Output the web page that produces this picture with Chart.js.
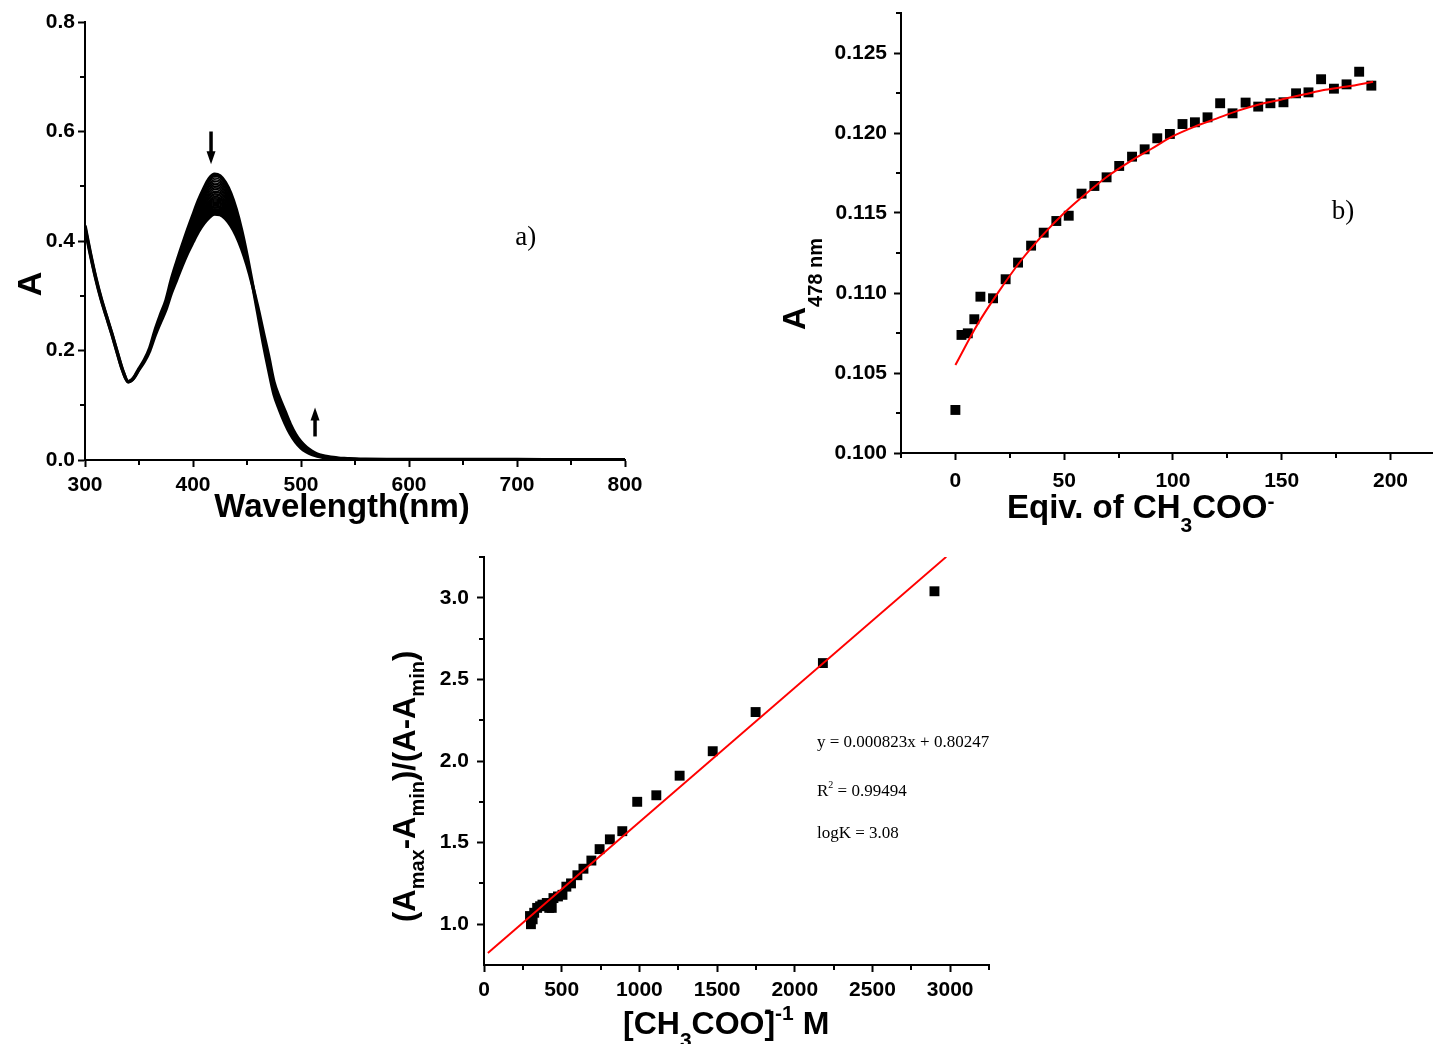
<!DOCTYPE html>
<html>
<head>
<meta charset="utf-8">
<script src="https://cdn.jsdelivr.net/npm/chart.js@4/dist/chart.umd.min.js"></script>
<style>
  html, body { margin: 0; padding: 0; background: #fff; width: 1433px; height: 1044px; overflow: hidden; }
  canvas { position: absolute; }
</style>
</head>
<body>
<canvas id="panelA" width="700" height="540" style="left:0;top:0"></canvas>
<canvas id="panelB" width="674" height="540" style="left:760px;top:0"></canvas>
<canvas id="panelC" width="640" height="504" style="left:380px;top:540px"></canvas>
<script>
// ---------- a) UV-vis titration spectra ----------
const wavelength = [300,305,310,315,320,325,330,335,340,345,350,355,360,365,370,375,380,385,390,395,
  400,405,410,415,420,425,430,435,440,445,450,455,460,465,470,475,480,485,490,495,
  500,505,510,515,520,525,530,535,540,545,550,555,560,580,600,650,700,750,800];
// first scan (free receptor)
const absFirstScan = [0.428,0.378,0.333,0.295,0.262,0.230,0.196,0.163,0.143,0.150,0.167,0.183,0.205,0.238,0.266,0.292,0.330,0.362,0.392,0.421,
  0.448,0.474,0.496,0.514,0.522,0.519,0.507,0.487,0.458,0.420,0.374,0.322,0.268,0.214,0.165,0.120,0.092,0.068,0.048,0.033,
  0.022,0.015,0.010,0.007,0.005,0.0035,0.0025,0.0018,0.0013,0.0010,0.0008,0.0007,0.0006,0.0005,0.0005,0.0004,0.0004,0.0004,0.0004];
// last scan (after ~190 equiv. acetate)
const absLastScan = [0.424,0.375,0.331,0.293,0.261,0.229,0.195,0.163,0.143,0.149,0.165,0.180,0.200,0.228,0.252,0.275,0.305,0.330,0.355,0.378,
  0.398,0.417,0.432,0.443,0.449,0.448,0.441,0.428,0.410,0.386,0.356,0.320,0.279,0.234,0.190,0.142,0.114,0.090,0.066,0.047,
  0.033,0.023,0.016,0.011,0.008,0.006,0.0045,0.0035,0.0028,0.0022,0.0018,0.0015,0.0013,0.0010,0.0009,0.0008,0.0008,0.0007,0.0007];
// band maximum (~420 nm) of each recorded scan
const peakAbs420 = [0.522,0.518,0.515,0.512,0.509,0.506,0.503,0.500,0.497,0.494,0.491,0.489,0.486,0.484,0.481,0.479,0.477,0.475,
  0.473,0.471,0.469,0.467,0.465,0.464,0.462,0.461,0.459,0.458,0.457,0.456,0.455,0.454,0.453,0.452,0.450,0.449];
const waveTicks = [300,400,500,600,700,800];
const waveMinor = [350,450,550,650,750];
const absTicks = [0,0.2,0.4,0.6,0.8];
const absMinor = [0.1,0.3,0.5,0.7];

// ---------- b) A(478 nm) vs equivalents ----------
const equiv = [0,2.8,5.7,8.7,11.5,17.3,23.1,28.8,34.8,40.6,46.4,52.1,58.0,63.9,69.5,75.3,81.2,87.0,92.8,98.6,
  104.4,110.1,115.9,121.7,127.4,133.4,139.2,144.8,150.8,156.6,162.3,168.1,174.0,179.8,185.6,191.2];
const a478 = [0.10269,0.10738,0.10748,0.10836,0.10977,0.10967,0.11086,0.11190,0.11296,0.11377,0.11450,0.11483,
  0.11621,0.11669,0.11723,0.11794,0.11852,0.11898,0.11967,0.11994,0.12056,0.12067,0.12098,0.12186,0.12123,
  0.12190,0.12165,0.12186,0.12192,0.12248,0.12254,0.12336,0.12277,0.12304,0.12383,0.12296];
const fitEquiv = [0,10,20,30,40,50,60,70,80,90,100,110,120,130,140,150,160,170,180,192];
const fitA478 = [0.1055,0.1080,0.1101,0.1120,0.1136,0.1150,0.1162,0.1173,0.1182,0.1190,0.1198,0.1204,0.1209,
  0.1214,0.1218,0.1221,0.1224,0.1227,0.1229,0.1232];
const equivTicks = [0,50,100,150,200];
const equivMinor = [-25,25,75,125,175];
const a478Ticks = [0.100,0.105,0.110,0.115,0.120,0.125];
const a478Minor = [0.1025,0.1075,0.1125,0.1175,0.1225,0.1275];

// ---------- c) Benesi-Hildebrand plot ----------
const invConc = [296,302,313,323,342,361,376,404,420,436,447,476,505,530,560,601,640,691,744,810,890,986,1109,1259,1472,1748,2181,2899];
const ratio = [1.05,1.00,1.03,1.07,1.10,1.11,1.12,1.13,1.10,1.10,1.16,1.17,1.18,1.23,1.25,1.30,1.34,1.39,1.46,1.52,1.57,1.75,1.79,1.91,2.06,2.30,2.60,3.04];
const fitSlope = 0.000823;
const fitIntercept = 0.80247;
const fitRange = [25, 2975];
const invTicks = [0,500,1000,1500,2000,2500,3000];
const invMinor = [250,750,1250,1750,2250,2750,3250];
const ratioTicks = [1.0,1.5,2.0,2.5,3.0];
const ratioMinor = [1.25,1.75,2.25,2.75,3.25];

// ---------- shared helpers ----------
const SANS = '"Liberation Sans", Arial, Helvetica, sans-serif';
const SERIF = '"Liberation Serif", "Times New Roman", serif';

function axis(o) {
  return {
    type: 'linear',
    position: o.pos,
    min: o.min, max: o.max,
    afterBuildTicks: s => { s.ticks = o.ticks.map(v => ({ value: v })); },
    afterFit: s => {
      if (o.pos === 'bottom') s.height = o.size; else s.width = o.size;
      // keep the plot frame fixed; labels may overhang it
      s.paddingTop = s.paddingBottom = s.paddingLeft = s.paddingRight = 0;
    },
    grid: { display: true, drawOnChartArea: false, drawTicks: true, tickLength: 7, tickWidth: 2, tickColor: '#000' },
    border: { display: true, color: '#000', width: 2 },
    ticks: {
      color: '#000', padding: o.pad, autoSkip: false, maxRotation: 0, minRotation: 0,
      font: { family: SANS, size: 21, weight: 'bold' },
      callback: v => o.fmt(v)
    }
  };
}

function drawMinor(chart, xs, ys) {
  const ctx = chart.ctx, a = chart.chartArea;
  const sx = chart.scales.x, sy = chart.scales.y;
  ctx.save();
  ctx.strokeStyle = '#000';
  ctx.lineWidth = 2;
  ctx.beginPath();
  xs.forEach(v => { const p = Math.round(sx.getPixelForValue(v)); ctx.moveTo(p, a.bottom); ctx.lineTo(p, a.bottom + 5); });
  ys.forEach(v => { const p = Math.round(sy.getPixelForValue(v)); ctx.moveTo(a.left, p); ctx.lineTo(a.left - 5, p); });
  ctx.stroke();
  ctx.restore();
}

// draws a run of text pieces (subscripts / superscripts via dy), optionally rotated to read upward
function richText(ctx, x, y, segs, opts = {}) {
  ctx.save();
  ctx.translate(x, y);
  if (opts.rotate) ctx.rotate(-Math.PI / 2);
  ctx.fillStyle = '#000';
  ctx.textBaseline = 'alphabetic';
  ctx.textAlign = 'left';
  const fam = opts.family || SANS, wt = opts.weight || 'bold';
  let total = 0;
  segs.forEach(s => { ctx.font = `${wt} ${s.size}px ${fam}`; total += s.adv !== undefined ? s.adv : ctx.measureText(s.t).width; });
  let cx = opts.center ? -total / 2 : 0;
  segs.forEach(s => {
    ctx.font = `${wt} ${s.size}px ${fam}`;
    ctx.fillText(s.t, cx, s.dy || 0);
    cx += s.adv !== undefined ? s.adv : ctx.measureText(s.t).width;
  });
  ctx.restore();
}

function arrow(ctx, x, yTail, yTip) {
  const dir = Math.sign(yTip - yTail);
  ctx.save();
  ctx.fillStyle = '#000';
  ctx.strokeStyle = '#000';
  ctx.lineWidth = 3.5;
  ctx.beginPath();
  ctx.moveTo(x, yTail);
  ctx.lineTo(x, yTip - dir * 10);
  ctx.stroke();
  ctx.beginPath();
  ctx.moveTo(x, yTip);
  ctx.lineTo(x - 4.5, yTip - dir * 13);
  ctx.lineTo(x + 4.5, yTip - dir * 13);
  ctx.closePath();
  ctx.fill();
  ctx.restore();
}

const baseOptions = (pad) => ({
  responsive: false,
  animation: false,
  events: [],
  layout: { padding: pad, autoPadding: false },
  plugins: { legend: { display: false }, tooltip: { enabled: false } }
});

// ---------- panel a ----------
const iPeak = wavelength.indexOf(420);
const scans = peakAbs420.map((p, i) => {
  const w = (p - absLastScan[iPeak]) / (absFirstScan[iPeak] - absLastScan[iPeak]);
  const edge = i === 0 || i === peakAbs420.length - 1;
  return {
    data: wavelength.map((x, k) => ({ x, y: absLastScan[k] + w * (absFirstScan[k] - absLastScan[k]) })),
    borderColor: '#000',
    borderWidth: edge ? 3.4 : 1.6,
    pointRadius: 0,
    showLine: true,
    cubicInterpolationMode: 'monotone',
    fill: false
  };
});

new Chart(document.getElementById('panelA'), {
  type: 'scatter',
  data: { datasets: scans },
  options: Object.assign(baseOptions({ top: 22, right: 75, left: 0, bottom: 0 }), {
    scales: {
      x: axis({ pos: 'bottom', min: 300, max: 800, ticks: waveTicks, size: 80, pad: 6, fmt: v => String(v) }),
      y: axis({ pos: 'left', min: 0, max: 0.8, ticks: absTicks, size: 85, pad: 3, fmt: v => v.toFixed(1) })
    }
  }),
  plugins: [{
    id: 'decorA',
    afterDraw(chart) {
      const ctx = chart.ctx, sx = chart.scales.x, sy = chart.scales.y;
      drawMinor(chart, waveMinor, absMinor);
      arrow(ctx, sx.getPixelForValue(416.7), sy.getPixelForValue(0.600), sy.getPixelForValue(0.540));
      arrow(ctx, sx.getPixelForValue(513), sy.getPixelForValue(0.043), sy.getPixelForValue(0.096));
      richText(ctx, 342, 517, [{ t: 'Wavelength(nm)', size: 33 }], { center: true });
      richText(ctx, 41, 284, [{ t: 'A', size: 34 }], { rotate: true, center: true });
      ctx.save();
      ctx.font = `27px ${SERIF}`;
      ctx.fillStyle = '#000';
      ctx.textAlign = 'center';
      ctx.textBaseline = 'middle';
      ctx.fillText('a)', sx.getPixelForValue(708), sy.getPixelForValue(0.405));
      ctx.restore();
    }
  }]
});

// ---------- panel b ----------
new Chart(document.getElementById('panelB'), {
  type: 'scatter',
  data: {
    datasets: [
      {
        data: fitEquiv.map((x, i) => ({ x, y: fitA478[i] })),
        showLine: true, borderColor: '#ff0000', borderWidth: 2, pointRadius: 0,
        cubicInterpolationMode: 'monotone'
      },
      {
        data: equiv.map((x, i) => ({ x, y: a478[i] })),
        pointStyle: 'rect', pointRadius: 7, backgroundColor: '#000', borderWidth: 0, showLine: false
      }
    ]
  },
  options: Object.assign(baseOptions({ top: 13, right: 0, left: 0, bottom: 0 }), {
    scales: {
      x: axis({ pos: 'bottom', min: -25, max: 220, ticks: equivTicks, size: 87, pad: 9, fmt: v => String(v) }),
      y: axis({ pos: 'left', min: 0.1, max: 0.1275, ticks: a478Ticks, size: 141, pad: 7, fmt: v => v.toFixed(3) })
    }
  }),
  plugins: [{
    id: 'decorB',
    afterDraw(chart) {
      const ctx = chart.ctx;
      drawMinor(chart, equivMinor, a478Minor);
      richText(ctx, 247, 518, [
        { t: 'Eqiv. of CH', size: 33 },
        { t: '3', size: 21, dy: 14 },
        { t: 'COO', size: 33 },
        { t: '-', size: 21, dy: -10 }
      ]);
      richText(ctx, 45, 330, [
        { t: 'A', size: 32 },
        { t: '478 nm', size: 20, dy: 17 }
      ], { rotate: true });
      ctx.save();
      ctx.font = `27px ${SERIF}`;
      ctx.fillStyle = '#000';
      ctx.textAlign = 'center';
      ctx.textBaseline = 'middle';
      ctx.fillText('b)', 583, 212);
      ctx.restore();
    }
  }]
});

// ---------- panel c ----------
new Chart(document.getElementById('panelC'), {
  type: 'scatter',
  data: {
    datasets: [
      {
        data: fitRange.map(x => ({ x, y: fitSlope * x + fitIntercept })),
        showLine: true, borderColor: '#ff0000', borderWidth: 2, pointRadius: 0
      },
      {
        data: invConc.map((x, i) => ({ x, y: ratio[i] })),
        pointStyle: 'rect', pointRadius: 7, backgroundColor: '#000', borderWidth: 0, showLine: false
      }
    ]
  },
  options: Object.assign(baseOptions({ top: 17, right: 31, left: 0, bottom: 0 }), {
    scales: {
      x: axis({ pos: 'bottom', min: 0, max: 3250, ticks: invTicks, size: 79, pad: 6, fmt: v => String(v) }),
      y: axis({ pos: 'left', min: 0.75, max: 3.25, ticks: ratioTicks, size: 104, pad: 8, fmt: v => v.toFixed(1) })
    }
  }),
  plugins: [{
    id: 'decorC',
    afterDraw(chart) {
      const ctx = chart.ctx;
      drawMinor(chart, invMinor, ratioMinor);
      richText(ctx, 243, 494, [
        { t: '[CH', size: 32 },
        { t: '3', size: 21, dy: 13 },
        { t: 'COO', size: 32 },
        { t: '-', size: 21, dy: -18, adv: 0 },
        { t: ']', size: 32 },
        { t: '-1', size: 21, dy: -14 },
        { t: ' M', size: 32 }
      ]);
      richText(ctx, 35, 382, [
        { t: '(A', size: 31 },
        { t: 'max', size: 20, dy: 9 },
        { t: '-A', size: 31 },
        { t: 'min', size: 20, dy: 9 },
        { t: ')/(A-A', size: 31 },
        { t: 'min', size: 20, dy: 9 },
        { t: ')', size: 31 }
      ], { rotate: true });
      const serif = { family: SERIF, weight: 'normal' };
      richText(ctx, 437, 207, [{ t: 'y = 0.000823x + 0.80247', size: 17 }], serif);
      richText(ctx, 437, 256, [
        { t: 'R', size: 17 },
        { t: '2', size: 10, dy: -8 },
        { t: ' = 0.99494', size: 17 }
      ], serif);
      richText(ctx, 437, 298, [{ t: 'logK = 3.08', size: 17 }], serif);
      ctx.save();
      ctx.font = `27px ${SERIF}`;
      ctx.fillStyle = '#000';
      ctx.textAlign = 'center';
      ctx.textBaseline = 'middle';
      ctx.fillText('c)', 672, 250);
      ctx.restore();
    }
  }]
});
</script>
</body>
</html>
